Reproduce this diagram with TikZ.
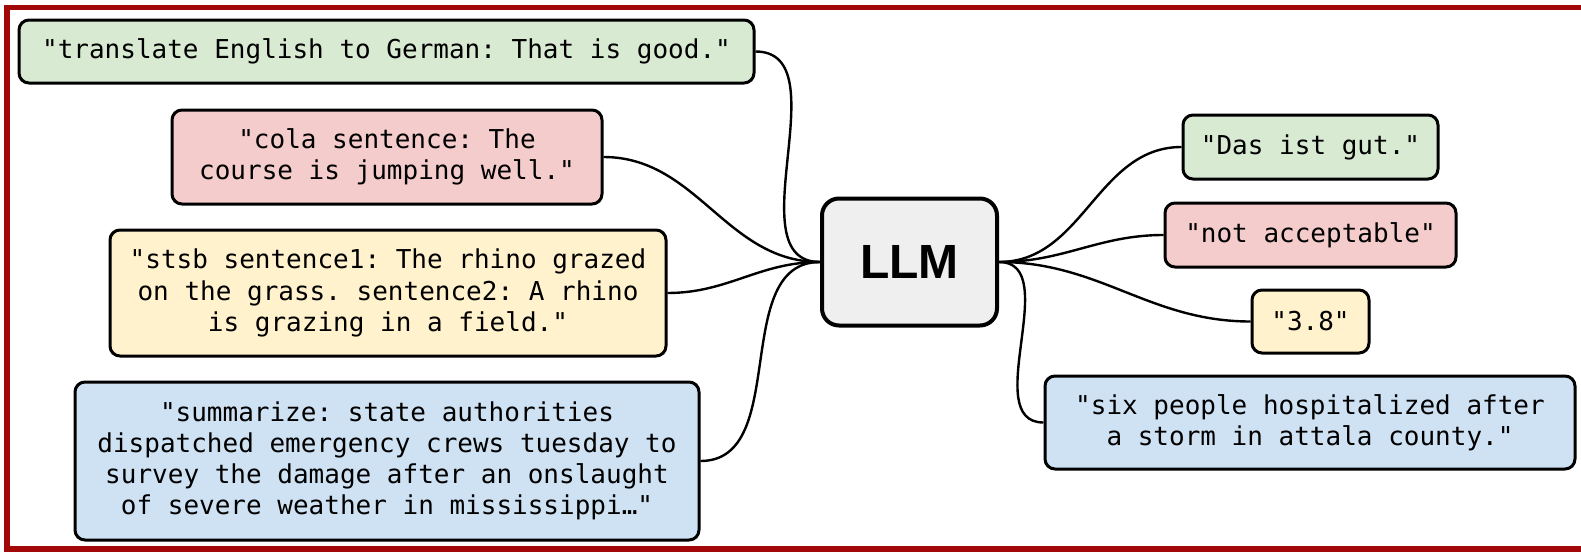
\documentclass[tikz,border=0pt]{standalone}
\usepackage{fontspec}
\setmonofont{DejaVu Sans Mono}
\newfontfamily\llmfont{Liberation Sans}
\usepackage{xcolor}
\usepackage{tikz}
\usetikzlibrary{positioning}
\definecolor{framered}{RGB}{162,8,8}
\definecolor{taskgreen}{HTML}{D9EAD3}
\definecolor{taskred}{HTML}{F4CCCC}
\definecolor{taskyellow}{HTML}{FFF2CC}
\definecolor{taskblue}{HTML}{CFE2F3}
\definecolor{modelgray}{HTML}{EFEFEF}
\tikzstyle{taskbox} = [draw=black, line width=1.5pt, rectangle, rounded corners=5pt,
inner sep=0pt, align=center, font=\ttfamily\fontsize{13}{15.6}\selectfont]
\tikzstyle{modelbox} = [draw=black, fill=modelgray, line width=2pt, rectangle,
rounded corners=8.5pt, inner sep=0pt, font=\llmfont\bfseries\fontsize{24}{28}\selectfont]
\tikzstyle{link} = [line width=1.2pt, out=0, in=180]

\begin{document}
\begin{tikzpicture}[x=0.5pt, y=-0.5pt]
        \useasboundingbox (0,0) rectangle (1581,552);
        \draw[framered, line width=2.8pt] (1581,7.5) -- (7,7.5) -- (7,549) -- (1581,549);
        % model in the middle
        \node[modelbox, minimum width=87.5pt, minimum height=63.5pt] (llm) at (909.5,262) {LLM};
        % inputs
        \node[taskbox, fill=taskgreen, minimum width=367.5pt, minimum height=31.5pt] (inA) at (386.5,51.5)
            {"translate English to German: That is good."};
        \node[taskbox, fill=taskred, minimum width=215pt, minimum height=47pt] (inB) at (387,157)
            {"cola sentence: The\\course is jumping well."};
        \node[taskbox, fill=taskyellow, minimum width=278pt, minimum height=63pt] (inC) at (388,293)
            {"stsb sentence1: The rhino grazed\\on the grass. sentence2: A rhino\\is grazing in a field."};
        \node[taskbox, fill=taskblue, minimum width=312pt, minimum height=79pt] (inD) at (387,461)
            {"summarize: state authorities\\dispatched emergency crews tuesday to\\survey the damage after an onslaught\\of severe weather in mississippi…"};
        % outputs
        \node[taskbox, fill=taskgreen, minimum width=127.5pt, minimum height=32pt] (outA) at (1310.5,147)
            {"Das ist gut."};
        \node[taskbox, fill=taskred, minimum width=145.5pt, minimum height=32pt] (outB) at (1310.5,235)
            {"not acceptable"};
        \node[taskbox, fill=taskyellow, minimum width=58.5pt, minimum height=31.5pt] (outC) at (1310.5,321.5)
            {"3.8"};
        \node[taskbox, fill=taskblue, minimum width=265pt, minimum height=46.5pt] (outD) at (1310,422.5)
            {"six people hospitalized after\\a storm in attala county."};
        \foreach \t in {inA,inB,inC,inD}
            \draw[link] (\t.east) to (llm.west);
        \foreach \t in {outA,outB,outC,outD}
            \draw[link] (llm.east) to (\t.west);
    \end{tikzpicture}
\end{document}
